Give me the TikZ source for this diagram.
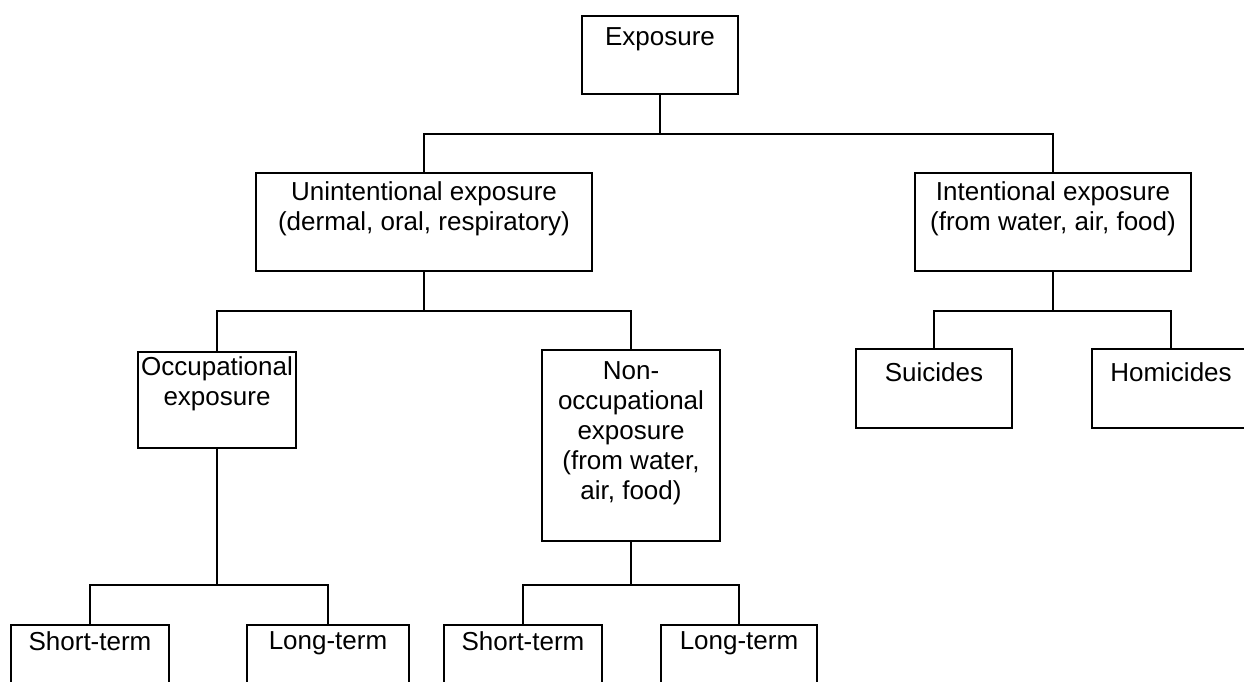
\documentclass[tikz,border=0pt]{standalone}
\usepackage{fontspec}
\setmainfont{Liberation Sans}

\begin{document}
\begin{tikzpicture}[x=0.5pt,y=-0.5pt,line width=0.75pt,
	box/.style={draw,rectangle,inner sep=0pt},
	txt/.style={anchor=north,align=center,inner sep=0pt,font=\fontsize{13}{15}\selectfont}]
	\useasboundingbox (0,0) rectangle (1244,681);

	% boxes
	\node[box,minimum width=78pt,minimum height=39pt] (exp) at (660,55) {};
	\node[box,minimum width=168pt,minimum height=49pt] (unint) at (424,222) {};
	\node[box,minimum width=138pt,minimum height=49pt] (inten) at (1053,222) {};
	\node[box,minimum width=79pt,minimum height=48pt] (occ) at (217,400) {};
	\node[box,minimum width=89pt,minimum height=95.5pt] (nonocc) at (631,445.5) {};
	\node[box,minimum width=78pt,minimum height=39.5pt] (suic) at (934,388.5) {};
	\node[box,minimum width=79pt,minimum height=39.5pt] (homic) at (1171,388.5) {};
	\foreach \name/\x/\w in {st1/90/79, lt1/328/81, st2/523/79, lt2/739/78} {
		\node[box,minimum width=\w pt,minimum height=40pt] (\name) at (\x,665) {};
	}

	% texts
	\node[txt] (expt) at ([yshift=-6pt]exp.north) {Exposure};
	\node[txt] (unintt) at ([yshift=-4.5pt]unint.north) {Unintentional exposure\\(dermal, oral, respiratory)};
	\node[txt] (intent) at ([yshift=-4.5pt]inten.north) {Intentional exposure\\(from water, air, food)};
	\node[txt] (occt) at ([yshift=-2.5pt]occ.north) {Occupational\\exposure};
	\node[txt] (nonocct) at ([yshift=-6pt]nonocc.north) {Non-\\occupational\\exposure\\(from water,\\air, food)};
	\node[txt] (suict) at ([yshift=-7pt]suic.north) {Suicides};
	\node[txt] (homict) at ([yshift=-7pt]homic.north) {Homicides};
	\foreach \name/\lbl in {st1/Short-term, lt1/Long-term, st2/Short-term, lt2/Long-term} {
		\node[txt] at ([yshift=-3.5pt]\name.north) {\lbl};
	}

	% connectors
	\coordinate (j0) at (660,134);
	\coordinate (j1) at (424,311);
	\coordinate (j2) at (1053,311);
	\coordinate (j3) at (217,585);
	\coordinate (j4) at (631,585);
	\draw (exp.south) -- (j0);
	\draw (j0) -| (unint.north);
	\draw (j0) -| (inten.north);
	\draw (unint.south) -- (j1) -| (occ.north);
	\draw (j1) -| (nonocc.north);
	\draw (inten.south) -- (j2) -| (suic.north);
	\draw (j2) -| (homic.north);
	\draw (occ.south) -- (j3) -| (st1.north);
	\draw (j3) -| (lt1.north);
	\draw (nonocc.south) -- (j4) -| (st2.north);
	\draw (j4) -| (lt2.north);
\end{tikzpicture}
\end{document}
